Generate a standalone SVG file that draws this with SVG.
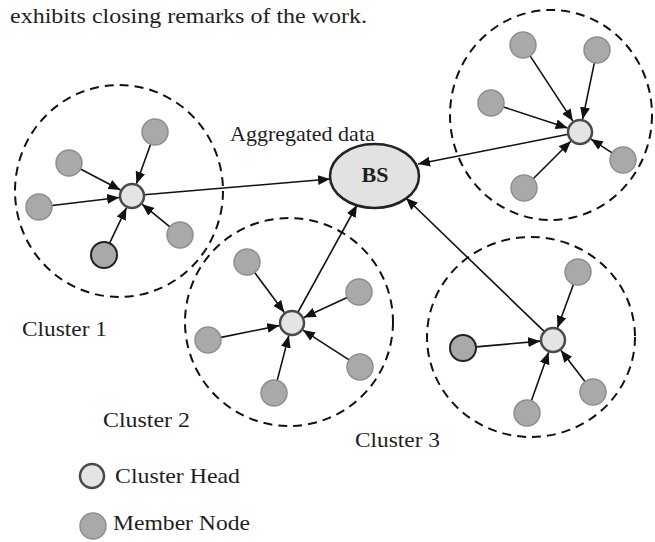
<svg xmlns="http://www.w3.org/2000/svg" width="655" height="542" viewBox="0 0 655 542">
<defs>
<style>
.t{font-family:"Liberation Serif","Times New Roman",serif;fill:#1e1e1e;font-size:22px}
.cl{fill:none;stroke:#111;stroke-width:2;stroke-dasharray:9 6}
.m{fill:#a9a9a9;stroke:#8e8e8e;stroke-width:1.5}
.md{fill:#a9a9a9;stroke:#222;stroke-width:2}
.h{fill:#e4e4e4;stroke:#4a4a4a;stroke-width:2.5}
.c line{stroke:#111;stroke-width:1.6;marker-end:url(#ah)}
</style>
<marker id="ah" markerUnits="userSpaceOnUse" markerWidth="12" markerHeight="10" refX="12" refY="5" orient="auto">
<path d="M0,0 L12,5 L0,10 z" fill="#111"/>
</marker>
</defs>
<rect width="655" height="542" fill="#fff"/>
<text class="t" x="10" y="23" font-size="23" textLength="357" lengthAdjust="spacingAndGlyphs">exhibits closing remarks of the work.</text>

<g id="clusters">
<ellipse class="cl" cx="119" cy="191" rx="104" ry="106"/>
<ellipse class="cl" cx="289" cy="322" rx="104" ry="104"/>
<ellipse class="cl" cx="531" cy="337" rx="104" ry="100"/>
<ellipse class="cl" cx="551" cy="115" rx="101" ry="105"/>
</g>

<g id="connectors" class="c">
<line x1="150.6" y1="144.2" x2="136.4" y2="183.8"/>
<line x1="80.5" y1="169" x2="120.5" y2="190"/>
<line x1="52" y1="205.5" x2="119.1" y2="197.5"/>
<line x1="109.6" y1="243.2" x2="126.4" y2="207.8"/>
<line x1="169.9" y1="226.8" x2="142.1" y2="204.2"/>
<line x1="144" y1="194.8" x2="330" y2="179"/>

<line x1="254.1" y1="271.7" x2="284.3" y2="312.5"/>
<line x1="347.2" y1="297.5" x2="303.8" y2="317.5"/>
<line x1="219.8" y1="337.6" x2="279.3" y2="325.6"/>
<line x1="349.1" y1="359.9" x2="302.9" y2="330.1"/>
<line x1="277.1" y1="380.9" x2="288.8" y2="335.6"/>
<line x1="297.8" y1="312.5" x2="357" y2="205"/>

<line x1="573.5" y1="284.2" x2="557.5" y2="327.8"/>
<line x1="476" y1="346.9" x2="540.1" y2="341.1"/>
<line x1="585.1" y1="381.7" x2="560.9" y2="350.3"/>
<line x1="531.4" y1="400.8" x2="548.6" y2="352.2"/>
<line x1="544.4" y1="331.7" x2="406" y2="198"/>

<line x1="530.1" y1="55.9" x2="572.9" y2="121.1"/>
<line x1="594.4" y1="62.7" x2="582.6" y2="119.3"/>
<line x1="503.4" y1="107" x2="567.6" y2="128"/>
<line x1="612.1" y1="152.9" x2="590.9" y2="139.1"/>
<line x1="533.2" y1="178.8" x2="570.8" y2="141.2"/>
<line x1="568.2" y1="134.3" x2="418" y2="164"/>
</g>

<g id="bs">
<ellipse cx="374.5" cy="176" rx="44.5" ry="32" fill="#e2e2e2" stroke="#222" stroke-width="2.5"/>
<text class="t" x="375" y="182" text-anchor="middle" font-weight="bold" font-size="21">BS</text>
</g>
<text class="t" x="230" y="141" font-size="20">Aggregated data</text>

<g id="cluster1">
<circle class="h" cx="132" cy="196" r="12"/>
<circle class="m" cx="155" cy="132" r="13"/>
<circle class="m" cx="69" cy="163" r="13"/>
<circle class="m" cx="39" cy="207" r="13"/>
<circle class="md" cx="104" cy="255" r="13"/>
<circle class="m" cx="180" cy="235" r="13"/>
</g>
<g id="cluster2">
<circle class="h" cx="292" cy="323" r="12"/>
<circle class="m" cx="247" cy="262" r="13"/>
<circle class="m" cx="359" cy="292" r="13"/>
<circle class="m" cx="208" cy="340" r="13"/>
<circle class="m" cx="360" cy="367" r="13"/>
<circle class="m" cx="274" cy="393" r="13"/>
</g>
<g id="cluster3">
<circle class="h" cx="553" cy="340" r="12"/>
<circle class="m" cx="578" cy="272" r="13"/>
<circle class="md" cx="463" cy="348" r="13"/>
<circle class="m" cx="593" cy="392" r="13"/>
<circle class="m" cx="527" cy="413" r="13"/>
</g>
<g id="cluster4">
<circle class="h" cx="580" cy="132" r="12"/>
<circle class="m" cx="523" cy="45" r="13"/>
<circle class="m" cx="597" cy="50" r="13"/>
<circle class="m" cx="491" cy="103" r="13"/>
<circle class="m" cx="623" cy="160" r="13"/>
<circle class="m" cx="524" cy="188" r="13"/>
</g>

<text class="t" x="22" y="336" textLength="85" lengthAdjust="spacingAndGlyphs">Cluster 1</text>
<text class="t" x="103" y="427" textLength="87" lengthAdjust="spacingAndGlyphs">Cluster 2</text>
<text class="t" x="355" y="447" textLength="85" lengthAdjust="spacingAndGlyphs">Cluster 3</text>

<g id="legend">
<circle class="h" cx="92" cy="476" r="12" stroke="#333"/>
<text class="t" x="115" y="483" textLength="125" lengthAdjust="spacingAndGlyphs">Cluster Head</text>
<circle class="m" cx="93" cy="526" r="13"/>
<text class="t" x="113" y="530" textLength="137" lengthAdjust="spacingAndGlyphs">Member Node</text>
</g>
</svg>
